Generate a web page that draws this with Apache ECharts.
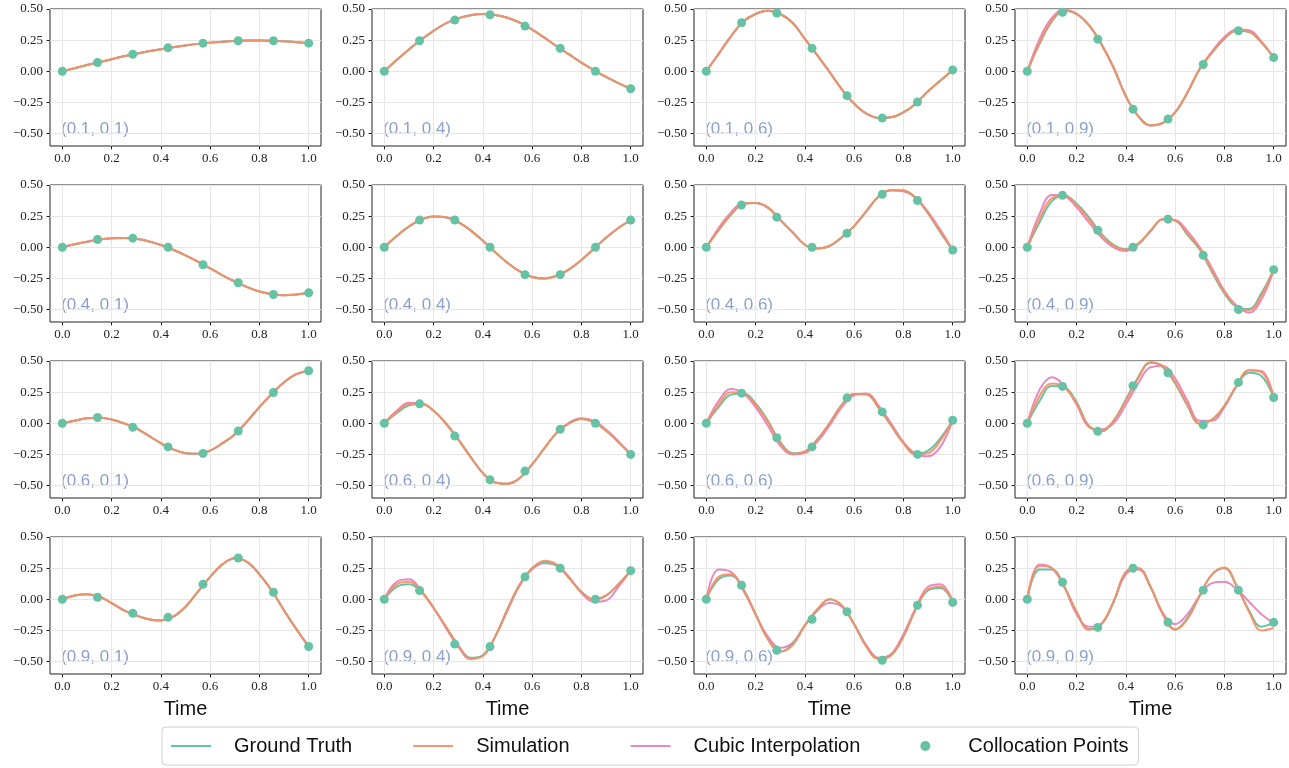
<!DOCTYPE html>
<html>
<head>
<meta charset="utf-8">
<script src="https://cdn.jsdelivr.net/npm/echarts@6/dist/echarts.min.js"></script>
<style>
html, body { margin: 0; padding: 0; background: #fff; }
#main { width: 1289px; height: 768px; }
</style>
</head>
<body>
<div id="main"></div>
<script>
// sample times the curves were read at, and the collocation times (k/7)
var tGrid = [0, 0.05, 0.1, 0.15, 0.2, 0.25, 0.3, 0.35, 0.4, 0.45, 0.5, 0.55, 0.6, 0.65, 0.7, 0.75, 0.8, 0.85, 0.9, 0.95, 1.0];
var tColloc = [0, 0.143, 0.286, 0.429, 0.571, 0.714, 0.857, 1.0];
var xTicks = [0, 0.2, 0.4, 0.6, 0.8, 1.0];
var yTicks = [-0.5, -0.25, 0, 0.25, 0.5];

var panelLabels = [
	'(0.1, 0.1)', '(0.1, 0.4)', '(0.1, 0.6)', '(0.1, 0.9)',
	'(0.4, 0.1)', '(0.4, 0.4)', '(0.4, 0.6)', '(0.4, 0.9)',
	'(0.6, 0.1)', '(0.6, 0.4)', '(0.6, 0.6)', '(0.6, 0.9)',
	'(0.9, 0.1)', '(0.9, 0.4)', '(0.9, 0.6)', '(0.9, 0.9)'
];

// ground truth curve per panel (row major)
var groundTruth = [
	[0, .025, .05, .073, .097, .12, .141, .16, .177, .193, .207, .22, .23, .238, .244, .247, .248, .246, .241, .234, .226],
	[0, .09, .175, .255, .325, .385, .425, .45, .46, .452, .43, .39, .335, .27, .2, .135, .07, .01, -.045, -.095, -.14],
	[0, .14, .28, .40, .46, .485, .46, .39, .26, .13, -.005, -.145, -.26, -.34, -.375, -.37, -.33, -.26, -.16, -.075, .01],
	[0, .22, .40, .485, .46, .37, .22, .03, -.2, -.36, -.435, -.415, -.33, -.17, .02, .15, .26, .325, .315, .23, .11],
	[0, .025, .045, .063, .073, .075, .068, .048, .018, -.02, -.065, -.115, -.17, -.225, -.275, -.32, -.355, -.377, -.385, -.38, -.366],
	[0, .09, .167, .223, .248, .241, .202, .136, .052, -.039, -.125, -.194, -.238, -.25, -.229, -.177, -.102, -.013, .077, .155, .217],
	[0, .135, .26, .345, .355, .32, .22, .12, .02, -.01, .01, .08, .17, .29, .41, .458, .455, .395, .27, .12, -.022],
	[0, .2, .37, .415, .35, .24, .11, .02, -.015, .03, .13, .225, .215, .1, -.02, -.2, -.37, -.48, -.495, -.37, -.18],
	[0, .02, .04, .045, .03, .0, -.04, -.1, -.16, -.21, -.24, -.245, -.22, -.16, -.09, .015, .13, .235, .33, .395, .422],
	[0, .08, .145, .155, .1, .0, -.13, -.27, -.4, -.475, -.485, -.44, -.33, -.2, -.075, .0, .035, .01, -.06, -.15, -.25],
	[0, .13, .23, .24, .16, .02, -.15, -.24, -.225, -.13, .0, .15, .235, .23, .12, -.02, -.16, -.245, -.22, -.12, .024],
	[0, .18, .3, .29, .17, -.02, -.065, .02, .19, .37, .49, .45, .32, .14, -.005, .03, .14, .3, .405, .38, .207],
	[0, .03, .04, .02, -.03, -.09, -.13, -.16, -.17, -.14, -.06, .06, .18, .28, .33, .3, .2, .07, -.09, -.24, -.38],
	[0, .1, .12, .06, -.07, -.22, -.37, -.47, -.45, -.3, -.08, .12, .25, .3, .27, .17, .06, .0, .03, .12, .23],
	[0, .16, .19, .08, -.12, -.32, -.42, -.36, -.21, -.09, .0, -.05, -.2, -.38, -.48, -.45, -.3, -.08, .07, .09, -.02],
	[0, .24, .24, .1, -.1, -.24, -.2, -.02, .22, .25, .1, -.12, -.24, -.15, .03, .2, .25, .1, -.09, -.22, -.19]
];

// simulation curve; null = drawn on top of the ground truth
var simulation = [
	null, null, null,
	[0, .23, .41, .488, .46, .37, .22, .03, -.2, -.36, -.435, -.415, -.33, -.17, .02, .15, .265, .328, .318, .232, .11],
	null, null,
	[0, .14, .265, .35, .355, .32, .22, .12, .02, -.01, .01, .08, .17, .29, .41, .458, .455, .397, .275, .125, -.022],
	[0, .23, .395, .415, .34, .225, .1, .01, -.02, .03, .13, .225, .215, .11, -.01, -.19, -.36, -.475, -.505, -.39, -.18],
	null,
	[0, .09, .155, .158, .1, .0, -.13, -.27, -.4, -.475, -.485, -.44, -.33, -.2, -.075, .0, .035, .01, -.06, -.15, -.25],
	[0, .15, .25, .24, .15, .01, -.16, -.245, -.23, -.135, .0, .145, .235, .235, .125, -.015, -.16, -.25, -.24, -.14, .024],
	[0, .22, .32, .29, .16, -.025, -.06, .02, .18, .36, .485, .46, .33, .15, .0, .03, .14, .305, .425, .41, .207],
	null,
	[0, .12, .14, .06, -.07, -.22, -.37, -.475, -.455, -.3, -.08, .12, .25, .31, .28, .17, .06, .0, .03, .12, .23],
	[0, .18, .2, .08, -.12, -.32, -.42, -.37, -.21, -.08, .0, -.05, -.2, -.38, -.48, -.45, -.3, -.08, .08, .1, -.02],
	[0, .27, .25, .1, -.1, -.245, -.2, -.02, .22, .25, .1, -.12, -.245, -.16, .03, .2, .255, .11, -.1, -.25, -.23]
];

// cubic interpolation curve; null = hidden under the ground truth
var cubic = [
	null, null, null,
	[0, .26, .43, .495, .46, .37, .22, .03, -.2, -.36, -.435, -.415, -.33, -.17, .02, .16, .275, .335, .33, .24, .11],
	null, null,
	[0, .155, .28, .355, .355, .315, .22, .12, .02, -.01, .01, .08, .17, .29, .41, .458, .45, .4, .285, .14, -.022],
	[0, .27, .42, .41, .32, .2, .08, .0, -.03, .02, .13, .225, .22, .13, .0, -.17, -.35, -.47, -.525, -.42, -.18],
	null,
	[0, .1, .165, .16, .1, -.005, -.13, -.27, -.4, -.475, -.485, -.44, -.33, -.2, -.075, .005, .04, .02, -.05, -.145, -.25],
	[0, .18, .275, .24, .13, -.02, -.18, -.25, -.24, -.15, -.02, .13, .225, .24, .14, .0, -.15, -.245, -.265, -.19, .024],
	[0, .27, .37, .3, .15, -.03, -.05, .0, .15, .32, .45, .46, .36, .18, .02, .02, .13, .3, .425, .42, .207],
	null,
	[0, .14, .16, .07, -.07, -.23, -.38, -.48, -.45, -.3, -.09, .11, .24, .29, .27, .18, .05, -.02, -.01, .1, .23],
	[0, .24, .22, .07, -.12, -.3, -.39, -.35, -.21, -.09, -.03, -.06, -.2, -.37, -.47, -.44, -.28, -.07, .1, .12, -.02],
	[0, .28, .25, .1, -.12, -.22, -.2, -.02, .2, .24, .1, -.11, -.2, -.12, .03, .13, .14, .08, -.02, -.12, -.19]
];

// collocation points at tColloc
var collocation = [
	[0, .07, .137, .188, .226, .245, .245, .226],
	[0, .245, .411, .454, .363, .185, 0, -.14],
	[0, .39, .468, .185, -.196, -.376, -.247, .011],
	[0, .473, .258, -.304, -.384, .054, .325, .11],
	[0, .062, .073, 0, -.14, -.285, -.379, -.366],
	[0, .218, .218, 0, -.22, -.22, 0, .218],
	[0, .339, .242, 0, .113, .425, .376, -.022],
	[0, .417, .137, 0, .226, -.065, -.5, -.18],
	[0, .046, -.032, -.19, -.242, -.062, .247, .422],
	[0, .156, -.102, -.454, -.384, -.048, 0, -.25],
	[0, .242, -.116, -.19, .204, .091, -.25, .024],
	[0, .296, -.065, .301, .406, -.013, .328, .207],
	[0, .016, -.113, -.145, .121, .331, .056, -.379],
	[0, .07, -.36, -.38, .18, .25, 0, .23],
	[0, .113, -.41, -.16, -.1, -.49, -.048, -.024],
	[0, .137, -.226, .25, -.185, .073, .073, -.185]
];

var colors = {gt: '#66c2a5', sim: '#fc8d62', cubic: '#e78ac3', label: '#8da0cb'};
var serifFont = '"Liberation Serif", "DejaVu Serif", serif';
var sansFont = '"Liberation Sans", Lato, sans-serif';

function pairs(xs, ys) {
	var out = [];
	for (var k = 0; k < xs.length; k++) out.push([xs[k], ys[k]]);
	return out;
}

function minusFmt(v, digits) {
	return (v < 0 ? '\u2212' : '') + Math.abs(v).toFixed(digits);
}

var gridLeft = [50, 372, 694, 1015];
var gridTop = [9, 185, 361, 537];
var gridW = 271, gridH = 137;

var grids = [], xAxes = [], yAxes = [], series = [], graphics = [];

for (var i = 0; i < 16; i++) {
	var r = Math.floor(i / 4), c = i % 4;
	grids.push({
		left: gridLeft[c], top: gridTop[r], width: gridW, height: gridH,
		show: true, borderColor: '#222', borderWidth: 1, backgroundColor: 'transparent'
	});
	xAxes.push({
		gridIndex: i, type: 'value', min: -0.05, max: 1.05,
		axisLine: {show: false, onZero: false},
		axisTick: {show: true, length: 3.5, customValues: xTicks, lineStyle: {color: '#222'}},
		axisLabel: {
			customValues: xTicks, margin: 6, color: '#222', fontFamily: serifFont, fontSize: 13,
			formatter: function (v) { return minusFmt(v, 1); }
		},
		splitLine: {show: true, lineStyle: {color: '#e6e6e6', width: 1}},
		name: r == 3 ? 'Time' : '',
		nameLocation: 'middle', nameGap: 25,
		nameTextStyle: {fontFamily: sansFont, fontSize: 20, color: '#111'}
	});
	yAxes.push({
		gridIndex: i, type: 'value', min: -0.6, max: 0.5,
		axisLine: {show: false, onZero: false},
		axisTick: {show: true, length: 3.5, customValues: yTicks, lineStyle: {color: '#222'}},
		axisLabel: {
			customValues: yTicks, margin: 7, color: '#222', fontFamily: serifFont, fontSize: 13,
			formatter: function (v) { return minusFmt(v, 2); }
		},
		splitLine: {show: true, lineStyle: {color: '#e6e6e6', width: 1}}
	});

	var gt = groundTruth[i];
	series.push({
		type: 'line', name: 'Cubic Interpolation', xAxisIndex: i, yAxisIndex: i,
		data: pairs(tGrid, cubic[i] || gt), smooth: 0.4, symbol: 'none',
		lineStyle: {color: colors.cubic, width: 2}, itemStyle: {color: colors.cubic}
	});
	series.push({
		type: 'line', name: 'Ground Truth', xAxisIndex: i, yAxisIndex: i,
		data: pairs(tGrid, gt), smooth: 0.4, symbol: 'none',
		lineStyle: {color: colors.gt, width: 2}, itemStyle: {color: colors.gt}
	});
	series.push({
		type: 'line', name: 'Simulation', xAxisIndex: i, yAxisIndex: i,
		data: pairs(tGrid, simulation[i] || gt), smooth: 0.4, symbol: 'none',
		lineStyle: {color: colors.sim, width: 2, opacity: 0.92}, itemStyle: {color: colors.sim}
	});
	series.push({
		type: 'scatter', name: 'Collocation Points', xAxisIndex: i, yAxisIndex: i,
		data: pairs(tColloc, collocation[i]), symbolSize: 9, z: 5,
		itemStyle: {color: colors.gt, opacity: 1}
	});

	graphics.push({
		type: 'text', x: gridLeft[c] + 11, y: gridTop[r] + 120,
		style: {
			text: panelLabels[i], fill: colors.label, fontFamily: sansFont, fontSize: 17,
			verticalAlign: 'middle'
		}
	});
}

// line entries: hide the marker that ECharts puts in the middle of a line icon
var noMarker = {opacity: 0, borderWidth: 0};

var chart = echarts.init(document.getElementById('main'));
chart.setOption({
	animation: false,
	backgroundColor: '#fff',
	grid: grids,
	xAxis: xAxes,
	yAxis: yAxes,
	series: series,
	graphic: graphics,
	legend: {
		data: [
			{name: 'Ground Truth', itemStyle: noMarker},
			{name: 'Simulation', itemStyle: noMarker},
			{name: 'Cubic Interpolation', itemStyle: noMarker},
			{name: 'Collocation Points'}
		],
		left: 162, top: 727,
		padding: [9, 10, 9, 8],
		itemWidth: 40, itemHeight: 10, itemGap: 60,
		borderColor: '#d0d0d0', borderWidth: 1, borderRadius: 4,
		textStyle: {fontFamily: sansFont, fontSize: 20, color: '#111', padding: [0, 0, 0, 18]}
	}
});
</script>
</body>
</html>
